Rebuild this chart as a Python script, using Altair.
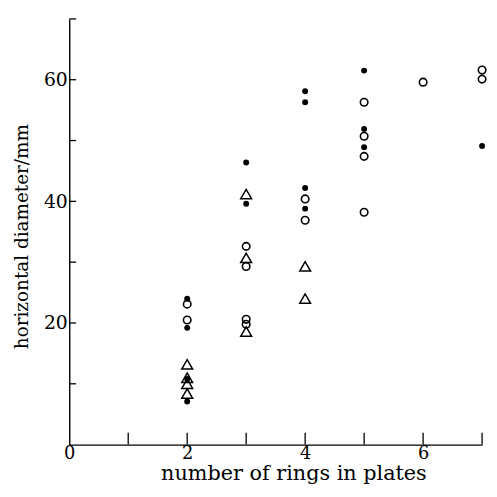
import altair as alt
import pandas as pd

# filled circles
filled_x = [2, 2, 2, 2, 3, 3, 4, 4, 4, 4, 5, 5, 5, 7]
filled_y = [24.0, 19.2, 10.8, 7.1, 46.4, 39.6, 58.1, 56.3, 42.2, 38.8, 61.5, 51.9, 48.9, 49.1]
# open circles
open_x = [2, 2, 3, 3, 3, 3, 4, 4, 5, 5, 5, 5, 6, 7, 7]
open_y = [23.1, 20.5, 32.6, 29.3, 20.6, 19.8, 40.4, 36.9, 56.3, 50.7, 47.4, 38.2, 59.6, 61.6, 60.1]
# open triangles
tri_x = [2, 2, 2, 2, 3, 3, 3, 4, 4]
tri_y = [13.2, 11.0, 10.0, 8.4, 41.2, 30.7, 18.6, 29.3, 24.0]

x_ticks = [1, 2, 3, 4, 5, 6, 7]
y_ticks = [10, 20, 30, 40, 50, 60, 70]
x_labels = [0, 2, 4, 6]
y_labels = [20, 40, 60]

W, H = 418, 431
FONT = "DejaVu Serif"

xs = alt.Scale(domain=[0, 7], nice=False)
ys = alt.Scale(domain=[0, 70], nice=False)

df_f = pd.DataFrame({"x": filled_x, "y": filled_y})
df_o = pd.DataFrame({"x": open_x, "y": open_y})
df_t = pd.DataFrame({"x": tri_x, "y": tri_y})
df_xt = pd.DataFrame({"x": x_ticks})
df_yt = pd.DataFrame({"y": y_ticks})

xaxis = alt.Axis(values=x_labels, ticks=False, grid=False, domainColor="black",
                 domainWidth=1.4, labelFont=FONT, labelFontSize=18, labelColor="black",
                 labelPadding=0, labelFlush=False, title="number of rings in plates",
                 titleFont=FONT, titleFontSize=21, titleFontWeight="normal", titleColor="black",
                 titleX=227, titleY=35, titleBaseline="alphabetic", titleAlign="center",
                 format="d")
yaxis = alt.Axis(values=y_labels, ticks=False, grid=False, domainColor="black",
                 domainWidth=1.4, labelFont=FONT, labelFontSize=19, labelColor="black",
                 labelPadding=2, labelFlush=False, title="horizontal diameter/mm", titleFont=FONT,
                 titleFontSize=18.6, titleFontWeight="normal", titleColor="black",
                 titleAngle=270, titleX=-42, titleY=220, titleBaseline="alphabetic",
                 titleAlign="center", format="d")

base_f = alt.Chart(df_f).mark_point(shape="circle", filled=True, color="black", size=36, opacity=1).encode(
    x=alt.X("x:Q", scale=xs, axis=xaxis), y=alt.Y("y:Q", scale=ys, axis=yaxis))
base_o = alt.Chart(df_o).mark_point(shape="circle", filled=False, color="black", size=58,
                                     strokeWidth=1.6, opacity=1).encode(
    x=alt.X("x:Q", scale=xs), y=alt.Y("y:Q", scale=ys))
base_t = alt.Chart(df_t).mark_point(shape="triangle-up", filled=False, color="black", size=120,
                                     strokeWidth=1.5, opacity=1).encode(
    x=alt.X("x:Q", scale=xs), y=alt.Y("y:Q", scale=ys))

xt = alt.Chart(df_xt).mark_rule(color="black", strokeWidth=1.3).encode(
    x=alt.X("x:Q", scale=xs), y=alt.value(H), y2=alt.value(H - 12))
yt = alt.Chart(df_yt).mark_rule(color="black", strokeWidth=1.3).encode(
    y=alt.Y("y:Q", scale=ys), x=alt.value(0), x2=alt.value(7))

chart = alt.layer(xt, yt, base_t, base_o, base_f).properties(
    width=W, height=H,
    autosize=alt.AutoSizeParams(type="none"),
    padding={"left": 62, "top": 8, "right": 7, "bottom": 50},
    background="white",
).configure_view(stroke=None)

chart.save("out.html", embed_options={"renderer": "svg", "actions": False})
